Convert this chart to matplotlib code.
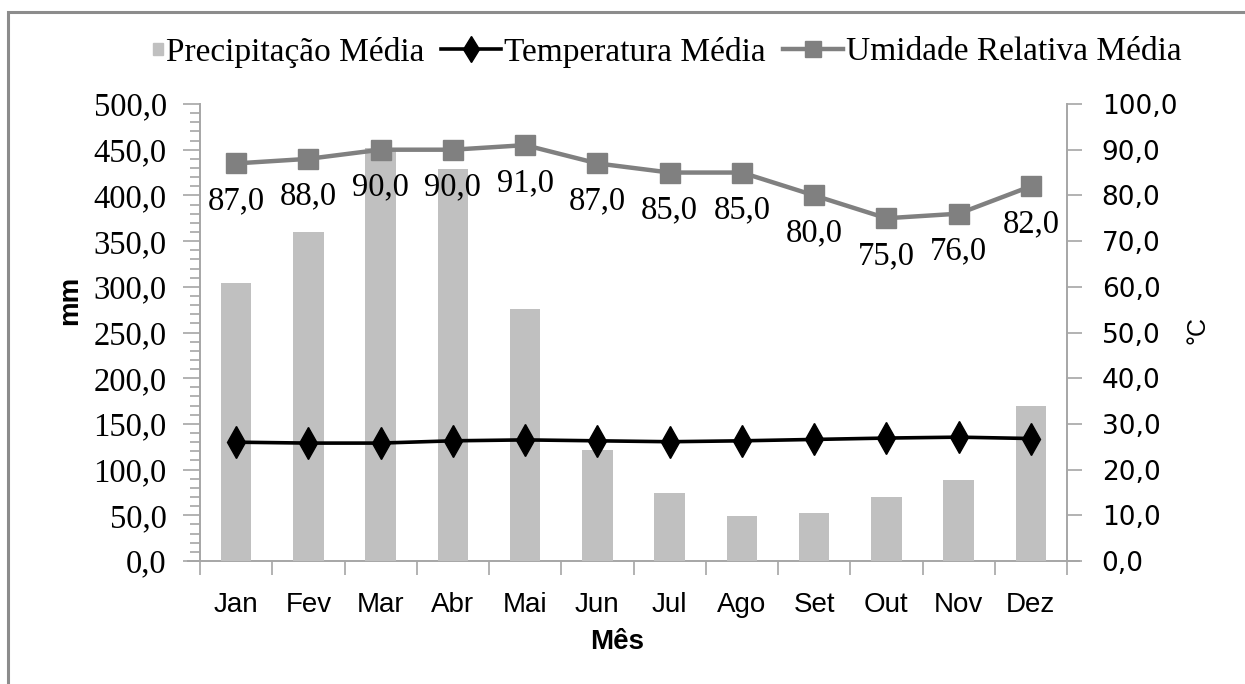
import matplotlib
matplotlib.use('Agg')
import matplotlib.pyplot as plt
from matplotlib.ticker import FuncFormatter, MultipleLocator
from matplotlib.patches import Rectangle, Patch
from matplotlib.lines import Line2D
from matplotlib.legend_handler import HandlerPatch

# dados mensais
meses = ['Jan', 'Fev', 'Mar', 'Abr', 'Mai', 'Jun', 'Jul', 'Ago', 'Set', 'Out', 'Nov', 'Dez']
precipitacao = [304, 360, 452, 429, 276, 121, 74, 49, 53, 70, 89, 170]
temperatura = [26.0, 25.8, 25.8, 26.3, 26.5, 26.3, 26.1, 26.3, 26.6, 26.9, 27.1, 26.8]
umidade = [87.0, 88.0, 90.0, 90.0, 91.0, 87.0, 85.0, 85.0, 80.0, 75.0, 76.0, 82.0]

cinza_eixo = '#a6a6a6'
virgula = FuncFormatter(lambda v, p: f'{v:.1f}'.replace('.', ','))

fig = plt.figure(figsize=(12.45, 6.84), dpi=100)
ax = fig.add_axes([200/1245, 1-561/684, 867/1245, 457/684])
ax2 = ax.twinx()

x = list(range(len(meses)))
ax.bar(x, precipitacao, width=0.42, color='#c0c0c0', zorder=2)
ax.set_xlim(-0.5, 11.5)
ax.set_ylim(0, 500)
ax.yaxis.set_major_locator(MultipleLocator(50))
ax.yaxis.set_minor_locator(MultipleLocator(10))
ax.yaxis.set_major_formatter(virgula)
ax.set_xticks(x)
ax.set_xticklabels(meses, family='Liberation Sans', fontsize=20)
ax.set_xticks([i - 0.5 for i in range(13)], minor=True)
ax.tick_params(axis='x', which='major', length=0, pad=22)
ax.tick_params(axis='x', which='minor', length=10, width=1.2, color=cinza_eixo, direction='out')
ax.tick_params(axis='y', which='major', length=12, width=1.2, color=cinza_eixo, pad=12)
ax.tick_params(axis='y', which='minor', length=7, width=1.2, color=cinza_eixo)
for lab in ax.get_yticklabels():
    lab.set_family('Liberation Serif')
    lab.set_fontsize(23.5)
for s in ['top', 'right', 'bottom']:
    ax.spines[s].set_visible(False)
ax.spines['left'].set_color(cinza_eixo)
ax.spines['left'].set_linewidth(1.4)
# linha do eixo x um pouco mais longa que a area do grafico
ax.plot([-0.014, 1.014], [0, 0], transform=ax.transAxes, color=cinza_eixo, lw=1.4,
        clip_on=False, zorder=1)

ax2.plot(x, temperatura, color='black', lw=2.6, marker='d', ms=16, zorder=3)
ax2.plot(x, umidade, color='#808080', lw=3.2, marker='s', ms=14, zorder=4)
for xi, u in zip(x, umidade):
    ax2.annotate(f'{u:.1f}'.replace('.', ','), (xi, u), xytext=(0, -27), textcoords='offset points',
                 ha='center', va='center', family='Liberation Serif', fontsize=23.5)
ax2.set_ylim(0, 100)
ax2.yaxis.set_major_locator(MultipleLocator(10))
ax2.yaxis.set_major_formatter(virgula)
ax2.tick_params(axis='y', length=11, width=1.2, color=cinza_eixo, pad=14, labelsize=19)
for s in ['top', 'left', 'bottom']:
    ax2.spines[s].set_visible(False)
ax2.spines['right'].set_color(cinza_eixo)
ax2.spines['right'].set_linewidth(1.4)

fig.text(70/1245, 1-300/684, 'mm', rotation=90, ha='center', va='center',
         family='Liberation Sans', fontweight='bold', fontsize=20)
fig.text(617/1245, 1-642/684, 'Mês', ha='center', va='center',
         family='Liberation Sans', fontweight='bold', fontsize=20)
fig.text(1197/1245, 1-330/684, '°C', rotation=90, ha='center', va='center',
         family='Liberation Sans', fontsize=18)


def quadradinho(legend, orig_handle, xdescent, ydescent, width, height, fontsize):
    s = 0.28 * fontsize
    return Rectangle((-xdescent + width - s, -ydescent + (height - s) / 2 - 1), s, s * 1.3)


handles = [Patch(color='#c0c0c0'),
           Line2D([], [], color='black', lw=2.6, marker='d', ms=13),
           Line2D([], [], color='#808080', lw=3.2, marker='s', ms=11)]
rotulos = ['Precipitação Média', 'Temperatura Média', 'Umidade Relativa Média']
fig.legend(handles, rotulos, loc='center', bbox_to_anchor=(642/1245, 1-52/684), ncol=3,
           frameon=False, prop={'family': 'Liberation Serif', 'size': 24},
           handlelength=1.8, handletextpad=0.1, columnspacing=0.5, borderaxespad=0,
           handler_map={Patch: HandlerPatch(patch_func=quadradinho)})

fig.patches.append(Rectangle((8/1245, -0.1), 1.2, 1.1 - 12/684, transform=fig.transFigure,
                             fill=False, edgecolor='#8c8c8c', lw=2.2))

fig.savefig('out.png', dpi=100)
